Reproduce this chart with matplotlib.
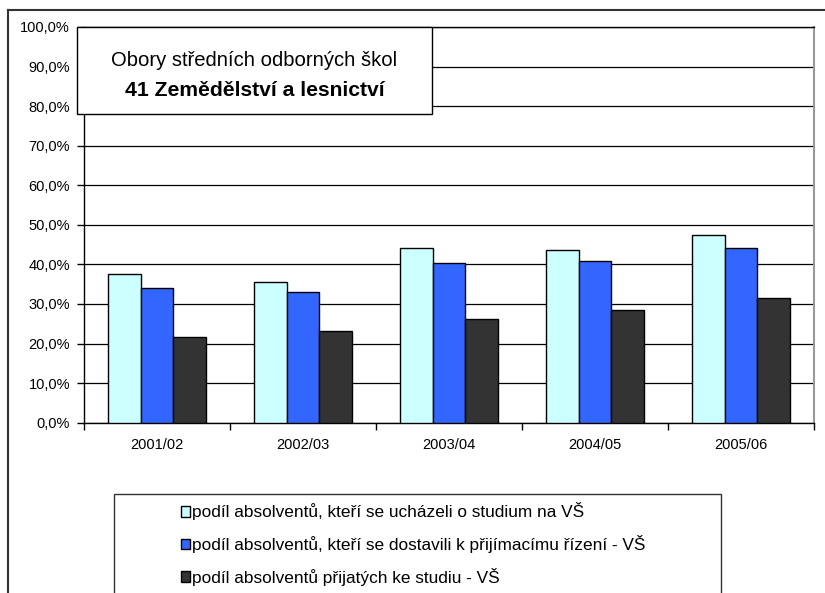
import numpy as np
import matplotlib
matplotlib.use("Agg")
import matplotlib.pyplot as plt
from matplotlib.patches import Rectangle, Patch
from matplotlib.lines import Line2D
from matplotlib.ticker import FuncFormatter, FixedLocator

plt.rcParams['font.family'] = ['Liberation Sans', 'DejaVu Sans']

years = ['2001/02', '2002/03', '2003/04', '2004/05', '2005/06']
applied = [37.6, 35.6, 44.2, 43.6, 47.4]
attended = [34.1, 33.0, 40.3, 40.9, 44.2]
admitted = [21.7, 23.2, 26.1, 28.6, 31.4]

labels = ['podíl absolventů, kteří se ucházeli o studium na VŠ',
          'podíl absolventů, kteří se dostavili k přijímacímu řízení - VŠ',
          'podíl absolventů přijatých ke studiu - VŠ']
colors = ['#CCFFFF', '#3366FF', '#333333']

W, H = 825, 593
fig = plt.figure(figsize=(W / 100, H / 100), dpi=100)


def fx(px):
	return px / W


def fy(py):
	return 1 - py / H


ax = fig.add_axes([fx(84), fy(422.7), fx(814 - 84), (422.7 - 27) / H])

x = np.arange(len(years)) + 0.5
bw = 0.2222
for i, (vals, c) in enumerate(zip([applied, attended, admitted], colors)):
	ax.bar(x + (i - 1) * bw, vals, width=bw, color=c, edgecolor='black', linewidth=1, zorder=3, label=labels[i])

ax.set_xlim(0, len(years))
ax.set_ylim(0, 100)
ax.set_yticks(np.arange(0, 101, 10))
ax.yaxis.set_major_formatter(FuncFormatter(lambda v, p: f"{v:.1f}%".replace('.', ',')))
ax.yaxis.grid(True, color='black', linewidth=0.9, zorder=0)
ax.set_axisbelow(True)

ax.set_xticks(x)
ax.set_xticklabels(years)
ax.xaxis.set_minor_locator(FixedLocator(np.arange(0, len(years) + 1)))
ax.tick_params(axis='x', which='major', length=0, pad=11, labelsize=10.5)
ax.tick_params(axis='x', which='minor', length=5, width=1, direction='out')
ax.tick_params(axis='y', length=5, width=1, direction='out', pad=5, labelsize=10.5)

for s in ['left', 'bottom', 'top']:
	ax.spines[s].set_color('black')
	ax.spines[s].set_linewidth(1)
ax.spines['right'].set_color('#999999')
ax.spines['right'].set_linewidth(1.5)

# outer chart frame
fig.add_artist(Line2D([fx(8), 1], [fy(10), fy(10)], color='#333333', linewidth=1.5))
fig.add_artist(Line2D([fx(8), fx(8)], [fy(10), 0], color='#333333', linewidth=1.5))

# title box
fig.add_artist(Rectangle((fx(77), fy(114)), fx(432 - 77), (114 - 27) / H,
	facecolor='white', edgecolor='black', linewidth=1, zorder=4))
fig.text(fx(254), fy(61), 'Obory středních odborných škol', ha='center', va='center',
	fontsize=14.6, zorder=5)
fig.text(fx(255), fy(90), '41 Zemědělství a lesnictví', ha='center', va='center',
	fontsize=15.2, fontweight='bold', zorder=5)

# legend frame
fig.add_artist(Rectangle((fx(114), fy(600)), fx(721 - 114), (600 - 494) / H,
	facecolor='white', edgecolor='#333333', linewidth=1, zorder=4))
handles = [Patch(facecolor=c, edgecolor='black', linewidth=1) for c in colors]
leg = fig.legend(handles, labels, loc='upper left', bbox_to_anchor=(fx(165), fy(487)),
	frameon=False, fontsize=12.4, handlelength=0.55, handleheight=0.55,
	handletextpad=0.12, labelspacing=0.85)
leg.set_zorder(5)

fig.savefig('out.png', dpi=100)
